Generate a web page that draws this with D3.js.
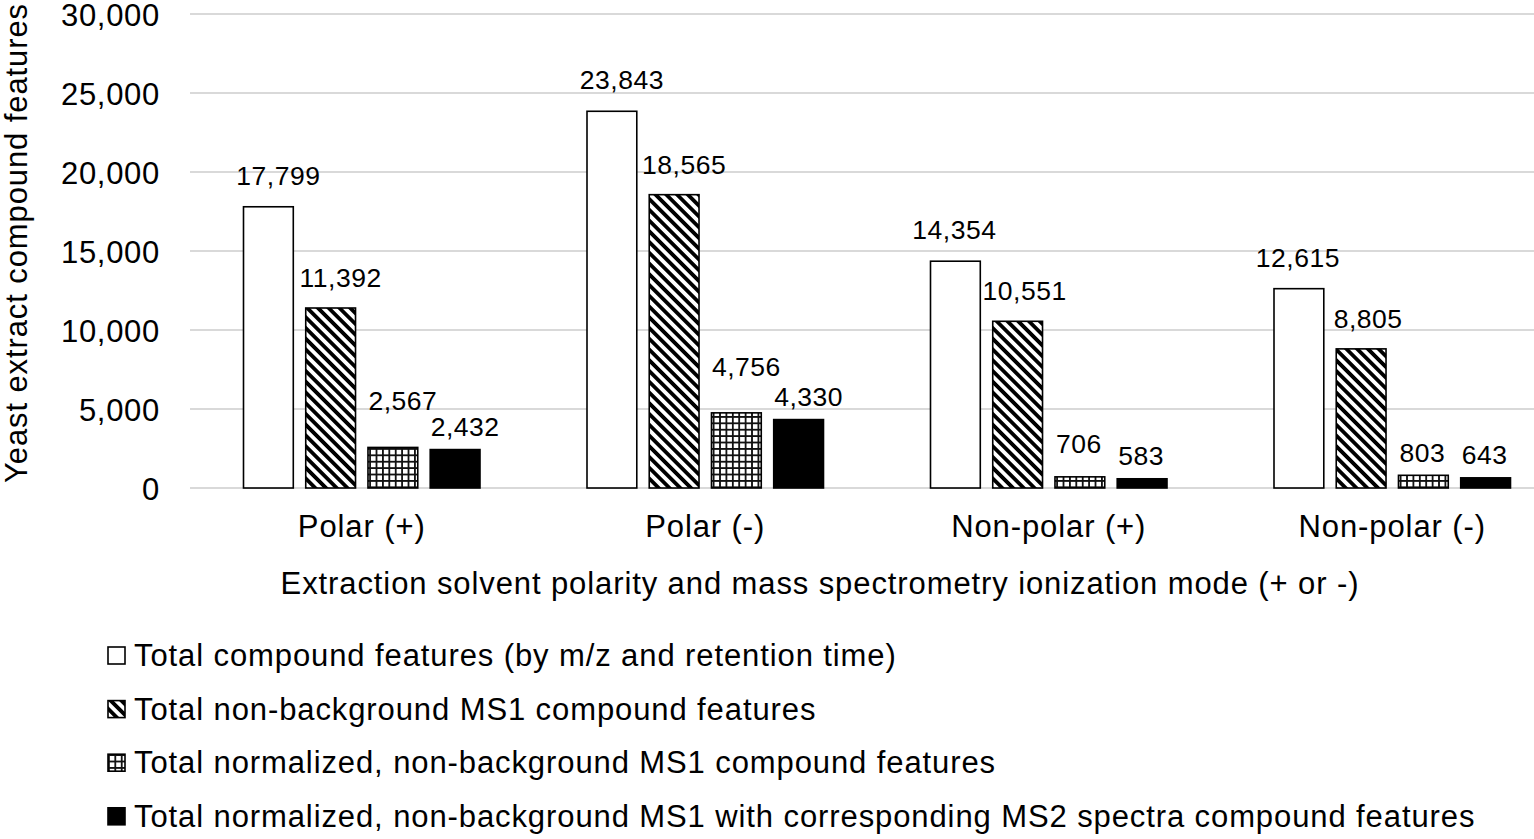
<!DOCTYPE html>
<html>
<head>
<meta charset="utf-8">
<script src="https://cdn.jsdelivr.net/npm/d3@7/dist/d3.min.js"></script>
<style>
body { margin: 0; background: #fff; }
text { font-family: "Liberation Sans", Arial, sans-serif; fill: #000; }
</style>
</head>
<body>
<div class="chart"></div>
<script>
// data
var categories = ["Polar (+)", "Polar (-)", "Non-polar (+)", "Non-polar (-)"];
var seriesNames = [
    "Total compound features (by m/z and retention time)",
    "Total non-background MS1 compound features",
    "Total normalized, non-background MS1 compound features",
    "Total normalized, non-background MS1 with corresponding MS2 spectra compound features"
];
var totalFeatures = [17799, 23843, 14354, 12615];
var nonBackground = [11392, 18565, 10551, 8805];
var normalized = [2567, 4756, 706, 803];
var withMS2 = [2432, 4330, 583, 643];
var yTicks = [0, 5000, 10000, 15000, 20000, 25000, 30000];

var seriesValues = [totalFeatures, nonBackground, normalized, withMS2];
var fills = ["#fff", "url(#hatch)", "url(#grid)", "#000"];

var width = 1534, height = 839;
var bigFont = 31, bigSpacing = 0.9;
var svg = d3.select(".chart").append("svg").attr("width", width).attr("height", height);

// patterns
var defs = svg.append("defs");
var hatch = defs.append("pattern").attr("id", "hatch").attr("patternUnits", "userSpaceOnUse")
    .attr("width", 7.6).attr("height", 7.6).attr("patternTransform", "rotate(-45)");
hatch.append("rect").attr("width", 7.6).attr("height", 7.6).attr("fill", "#fff");
hatch.append("rect").attr("x", 0).attr("y", 0).attr("width", 3.8).attr("height", 7.6).attr("fill", "#000");

var grid = defs.append("pattern").attr("id", "grid").attr("patternUnits", "userSpaceOnUse")
    .attr("width", 6.4).attr("height", 6.4);
grid.append("rect").attr("width", 6.4).attr("height", 6.4).attr("fill", "#fff");
grid.append("path").attr("d", "M0,0.9H6.4M0.9,0V6.4").attr("stroke", "#111").attr("stroke-width", 1.8);

var plotLeft = 190, plotRight = 1564, plotTop = 14, plotBottom = 488;

var y = d3.scaleLinear().domain([0, 30000]).range([plotBottom, plotTop]);
var x0 = d3.scaleBand().domain(categories).range([plotLeft, plotRight]).padding(0);
var x1 = d3.scaleBand().domain(d3.range(4))
    .range([53.5, x0.bandwidth() - 53.5]).paddingInner(0.2);

// gridlines
svg.append("g").selectAll("line").data(yTicks).enter().append("line")
    .attr("x1", plotLeft).attr("x2", plotRight)
    .attr("y1", function (d) { return y(d); }).attr("y2", function (d) { return y(d); })
    .attr("stroke", "#d9d9d9").attr("stroke-width", 2);

// y axis labels
var yAxis = d3.axisLeft(y).tickValues(yTicks).tickSize(0).tickPadding(0).tickFormat(d3.format(","));
var yg = svg.append("g").attr("transform", "translate(160,0)").call(yAxis);
yg.select(".domain").remove();
yg.selectAll("text").attr("font-size", bigFont).attr("dy", "0.36em")
    .style("letter-spacing", "0.7px")
    .style("font-family", "'Liberation Sans', Arial, sans-serif").attr("fill", "#000");

// label nudges (the original labels were moved by hand to avoid collisions)
function labelDx(si, ci) {
    if (ci < 2) return 10;
    return si == 1 ? 7 : -1;
}
function labelGap(si, ci) {
    if (si == 0) return 22;
    if (si == 1) return 21;
    if (si == 2) return ci < 2 ? 37 : (ci == 2 ? 24 : 13);
    return 14;
}

// bars
var groups = svg.append("g").selectAll("g").data(categories).enter().append("g")
    .attr("transform", function (d) { return "translate(" + x0(d) + ",0)"; });

groups.each(function (cat, ci) {
    var g = d3.select(this);
    seriesValues.forEach(function (vals, si) {
        var v = vals[ci];
        g.append("rect")
            .attr("x", x1(si)).attr("y", y(v))
            .attr("width", x1.bandwidth()).attr("height", y(0) - y(v))
            .attr("fill", fills[si]).attr("stroke", "#000").attr("stroke-width", 1.6);
        g.append("text")
            .attr("x", x1(si) + x1.bandwidth() / 2 + labelDx(si, ci))
            .attr("y", y(v) - labelGap(si, ci))
            .attr("text-anchor", "middle").attr("font-size", 26.5)
            .style("letter-spacing", "0.5px")
            .text(d3.format(",")(v));
    });
});

// category labels
svg.append("g").selectAll("text").data(categories).enter().append("text")
    .attr("x", function (d) { return x0(d) + x0.bandwidth() / 2; })
    .attr("y", 537).attr("text-anchor", "middle").attr("font-size", bigFont)
    .style("letter-spacing", bigSpacing + "px")
    .text(function (d) { return d; });

// axis titles
svg.append("text").attr("x", 820).attr("y", 594).attr("text-anchor", "middle").attr("font-size", bigFont)
    .style("letter-spacing", bigSpacing + "px")
    .text("Extraction solvent polarity and mass spectrometry ionization mode (+ or -)");
svg.append("text").attr("transform", "translate(27,243) rotate(-90)")
    .attr("text-anchor", "middle").attr("font-size", bigFont)
    .style("letter-spacing", bigSpacing + "px")
    .text("Yeast extract compound features");

// legend
var legend = svg.append("g").selectAll("g").data(seriesNames).enter().append("g")
    .attr("transform", function (d, i) { return "translate(108," + (647 + i * 53.6) + ")"; });
legend.append("rect").attr("width", 17).attr("height", 17)
    .attr("fill", function (d, i) { return fills[i]; })
    .attr("stroke", "#000").attr("stroke-width", 1.6);
legend.append("text").attr("x", 26).attr("y", 19).attr("font-size", bigFont)
    .style("letter-spacing", bigSpacing + "px")
    .text(function (d) { return d; });
</script>
</body>
</html>
